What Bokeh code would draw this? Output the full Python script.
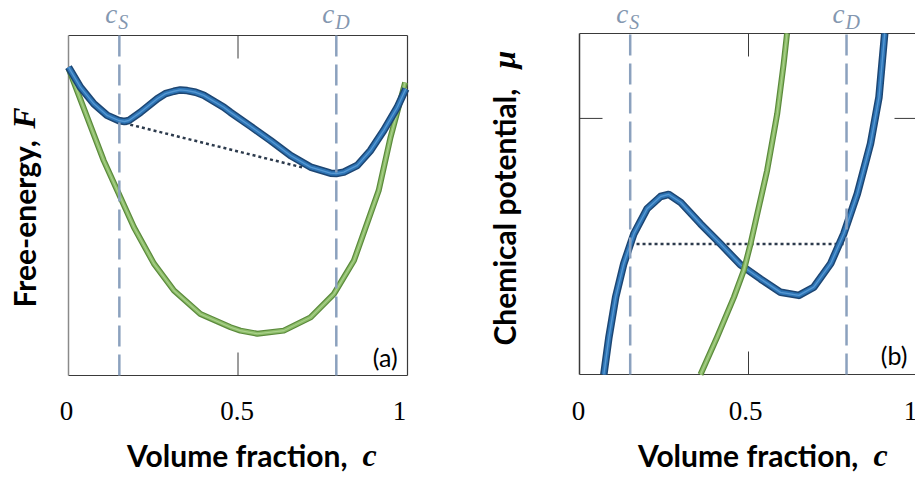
import math
from bokeh.plotting import figure
from bokeh.layouts import row
from bokeh.models import Label, Range1d
from bokeh.core.properties import value
from bokeh.embed import file_html
from bokeh.resources import INLINE

# ---------------- data ----------------
c_S = 0.15
c_D = 0.79

xticks = [0, 0.5, 1]
xtick_labels = ["0", "0.5", "1"]
inner_xticks = [0.5]

# panel (a): free energy
F_blue_c = [0.0, 0.035, 0.075, 0.114, 0.148, 0.165, 0.178, 0.212, 0.262, 0.286, 0.311, 0.330,
            0.350, 0.375, 0.399, 0.458, 0.478, 0.537, 0.596, 0.655, 0.714, 0.773, 0.790,
            0.812, 0.852, 0.891, 0.930, 0.970, 0.995]
F_blue = [0.907, 0.848, 0.799, 0.765, 0.750, 0.747, 0.750, 0.774, 0.814, 0.829, 0.836, 0.840,
          0.838, 0.833, 0.824, 0.789, 0.774, 0.733, 0.691, 0.647, 0.613, 0.595, 0.594,
          0.598, 0.618, 0.662, 0.721, 0.789, 0.843]
F_green_c = [0.0, 0.055, 0.104, 0.144, 0.193, 0.252, 0.311, 0.389, 0.478, 0.507, 0.557,
             0.635, 0.714, 0.783, 0.842, 0.915, 0.950, 0.993]
F_green = [0.904, 0.760, 0.632, 0.544, 0.436, 0.329, 0.250, 0.181, 0.142, 0.132, 0.123,
           0.132, 0.171, 0.240, 0.338, 0.544, 0.701, 0.862]
tangent_c = [0.165, 0.69]
tangent_F = [0.742, 0.612]

# panel (b): chemical potential
mu_blue_c = [0.072, 0.087, 0.107, 0.131, 0.161, 0.200, 0.240, 0.264, 0.299, 0.358, 0.417,
             0.476, 0.536, 0.595, 0.649, 0.693, 0.743, 0.782, 0.822, 0.861, 0.886, 0.903]
mu_blue = [0.0, 0.109, 0.227, 0.325, 0.413, 0.486, 0.522, 0.528, 0.505, 0.442, 0.383,
           0.322, 0.280, 0.241, 0.232, 0.256, 0.325, 0.413, 0.530, 0.677, 0.813, 1.0]
mu_green_c = [0.358, 0.407, 0.457, 0.486, 0.506, 0.526, 0.555, 0.585, 0.604, 0.614]
mu_green = [0.0, 0.109, 0.227, 0.305, 0.383, 0.471, 0.598, 0.765, 0.911, 1.0]
mu_eq_c = [0.151, 0.79]
mu_eq = [0.383, 0.383]
mu_yticks = [0.751]

# ---------------- styles ----------------
SANS = "Lato"
SERIF = "Liberation Serif"
FRAME = "#3a3a3a"
DASH_C = "#8ba1be"
LBL_C = "#8497b0"
BLUE = ("#1d4673", "#2e75b6", "#6aa8e0")
GREEN = ("#5b8a3c", "#8cbc68", "#b8dc9c")
H = 478
TICK_PX = 23
SCALE = {}


def make_fig(width, left_px, bottom_px, sx, sy):
    """Frame fills the canvas; data [0,1] box sits at the given pixel position."""
    xr = Range1d(-left_px / sx, (width - left_px) / sx)
    yr = Range1d(-(H - bottom_px) / sy, bottom_px / sy)
    p = figure(width=width, height=H, x_range=xr, y_range=yr, output_backend="svg",
               toolbar_location=None, x_axis_type=None, y_axis_type=None,
               min_border=0, min_border_left=0, min_border_right=0,
               min_border_top=0, min_border_bottom=0)
    p.grid.visible = False
    p.outline_line_color = None
    p.background_fill_color = "white"
    p.border_fill_color = "white"
    SCALE[p.id] = (sx, sy)
    return p


def tube(p, x, y, cols, w):
    p.line(x, y, line_color=cols[0], line_width=w, line_join="round")
    p.line(x, y, line_color=cols[1], line_width=w * 0.6, line_join="round")
    p.line(x, y, line_color=cols[2], line_width=w * 0.18, line_alpha=0.7, line_join="round")


def frame_box(p, left_color):
    p.segment(x0=[0, 0, 1], y0=[0, 1, 0], x1=[1, 1, 1], y1=[0, 1, 1],
              line_color=FRAME, line_width=1.2)
    p.segment(x0=[0], y0=[0], x1=[0], y1=[1], line_color=left_color, line_width=1.5)


def xtick_marks(p, ticks):
    t = TICK_PX / SCALE[p.id][1]
    p.segment(x0=ticks, y0=[0] * len(ticks), x1=ticks, y1=[t] * len(ticks),
              line_color=FRAME, line_width=1)
    p.segment(x0=ticks, y0=[1] * len(ticks), x1=ticks, y1=[1 - t] * len(ticks),
              line_color=FRAME, line_width=1)


def ytick_marks(p, ticks):
    t = TICK_PX / SCALE[p.id][0]
    p.segment(x0=[0] * len(ticks), y0=ticks, x1=[t] * len(ticks), y1=ticks,
              line_color=FRAME, line_width=1)
    p.segment(x0=[1] * len(ticks), y0=ticks, x1=[1 - t] * len(ticks), y1=ticks,
              line_color=FRAME, line_width=1)


def tick_labels(p, offsets, y):
    p.text(x=xticks, y=[y] * len(xticks), text=xtick_labels, x_offset=offsets,
           text_font=value(SERIF), text_font_size="27px", text_color="black",
           text_align="center", text_baseline="middle")


def dashes(p):
    p.segment(x0=[c_S, c_D], y0=[0, 0], x1=[c_S, c_D], y1=[1, 1], line_color=DASH_C,
              line_width=2.5, line_dash="21 8")


def text(p, s, x, y, font, size, style="normal", color="black", align="left",
         angle=0.0, xo=0, yo=0):
    p.add_layout(Label(x=x, y=y, text=s, text_font=font, text_font_size=size,
                       text_font_style=style, text_color=color, text_align=align,
                       text_baseline="middle", angle=angle, x_offset=xo, y_offset=yo))


def c_label(p, xpos, yc, ysub, sub):
    text(p, "c", xpos, yc, SERIF, "27px", "italic", LBL_C, "right", xo=-2)
    text(p, sub, xpos, ysub, SERIF, "20px", "italic", LBL_C, "left", xo=-1)


# ---------------- panel (a) ----------------
p1 = make_fig(470, 68, 375, 339, 340)
frame_box(p1, "#8a8a8a")
xtick_marks(p1, inner_xticks)
tick_labels(p1, [-2, -1, -8], -0.103)
p1.line(tangent_c, tangent_F, line_color="#2c3a4c", line_width=2.5, line_dash="3 3")
tube(p1, F_green_c, F_green, GREEN, 6)
tube(p1, F_blue_c, F_blue, BLUE, 7.5)
dashes(p1)
c_label(p1, c_S, 1.062, 1.041, "S")
c_label(p1, c_D, 1.062, 1.041, "D")
text(p1, "(a)", 0.971, 0.053, SANS, "25px", align="right")
text(p1, "Volume fraction,", 0.823, -0.235, SANS, "30px", "bold", align="right")
text(p1, "c", 0.867, -0.235, SERIF, "32px", "bold italic")
text(p1, "Free-energy,", -0.1325, 0.2, SANS, "30px", "bold", angle=math.pi / 2)
text(p1, "F", -0.1325, 0.726, SERIF, "32px", "bold italic", angle=math.pi / 2)

# ---------------- panel (b) ----------------
p2 = make_fig(445, 109, 374, 338, 341)
frame_box(p2, FRAME)
xtick_marks(p2, inner_xticks)
ytick_marks(p2, mu_yticks)
tick_labels(p2, [-1, -3, -7], -0.106)
p2.line(mu_eq_c, mu_eq, line_color="#2c3a4c", line_width=2.5, line_dash="3 3")
tube(p2, mu_blue_c, mu_blue, BLUE, 7.5)
tube(p2, mu_green_c, mu_green, GREEN, 6)
dashes(p2)
c_label(p2, c_S, 1.056, 1.035, "S")
c_label(p2, c_D, 1.056, 1.035, "D")
text(p2, "(b)", 0.970, 0.056, SANS, "25px", align="right")
text(p2, "Volume fraction,", 0.825, -0.235, SANS, "30px", "bold", align="right")
text(p2, "c", 0.870, -0.235, SERIF, "32px", "bold italic")
text(p2, "Chemical potential,", -0.2246, 0.085, SANS, "30px", "bold", angle=math.pi / 2)
text(p2, "\u03bc", -0.2246, 0.897, SERIF, "32px", "bold italic", angle=math.pi / 2)

layout = row(p1, p2)
open("out.html", "w").write(file_html(layout, INLINE))
